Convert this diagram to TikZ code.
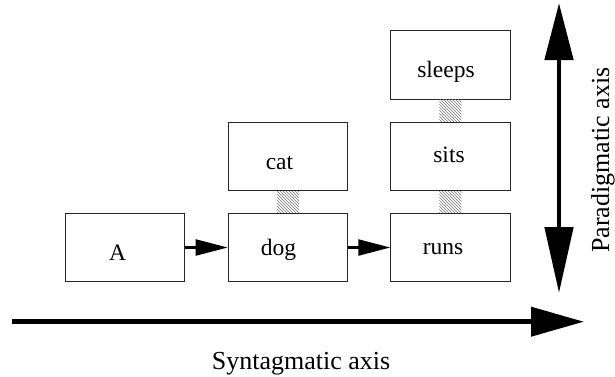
\documentclass[tikz,border=0pt]{standalone}
\usepackage{fontspec}
\setmainfont{Liberation Serif}
\usetikzlibrary{arrows.meta,patterns}
\begin{document}
\begin{tikzpicture}[x=1pt,y=-1pt,
  wordbox/.style={draw=black!85,line width=1pt,minimum width=119.3pt,minimum height=68.4pt,inner sep=0pt},
  wordtext/.style={anchor=base,inner sep=0pt,font=\fontsize{23.5}{28}\selectfont},
  axistext/.style={inner sep=0pt,font=\fontsize{26}{30}\selectfont},
  link/.style={line width=2.3pt,-{Triangle[length=32pt,width=16pt]}},
  hatch/.style={pattern=north west lines,pattern color=black!55},
  axisarrow/.style={line width=4.8pt}]
\useasboundingbox (0,0) rectangle (615,376);
% boxes
\node[wordbox] (A) at (125.3,247.5) {};
\node[wordbox] (dog) at (287.8,247.5) {};
\node[wordbox] (cat) at (287.8,156.5) {};
\node[wordbox] (runs) at (450.4,247.5) {};
\node[wordbox] (sits) at (450.4,156.3) {};
\node[wordbox] (sleeps) at (450.4,65) {};
% texts
\node[wordtext] (tA) at (117.5,260) {A};
\node[wordtext] (tdog) at (278.5,255) {dog};
\node[wordtext] (tcat) at (279.5,169) {cat};
\node[wordtext] (truns) at (443,254.5) {runs};
\node[wordtext] (tsits) at (449,162.7) {sits};
\node[wordtext] (tsleeps) at (446,77.3) {sleeps};
% hatched links
\path[hatch] ([xshift=-11pt]dog.north) rectangle ([xshift=11pt]cat.south);
\path[hatch] ([xshift=-11pt]runs.north) rectangle ([xshift=11pt]sits.south);
\path[hatch] ([xshift=-11pt]sits.north) rectangle ([xshift=11pt]sleeps.south);
% syntagmatic links
\draw[link] (A.east) -- (dog.west);
\draw[link] (dog.east) -- (runs.west);
% axes
\coordinate (sx0) at (11.7,321.7);
\coordinate (sx1) at (584,321.7);
\draw[axisarrow,-{Triangle[length=53pt,width=28.7pt]}] (sx0) -- (sx1);
\coordinate (py0) at (559,293);
\coordinate (py1) at (559,3);
\draw[axisarrow,{Triangle[length=66pt,width=28pt]}-{Triangle[length=57pt,width=28pt]}] (py0) -- (py1);
\node[axistext,anchor=base] (stext) at (301,369) {Syntagmatic axis};
\node[axistext,anchor=base,rotate=90] (ptext) at (609,160) {Paradigmatic axis};
\end{tikzpicture}
\end{document}
